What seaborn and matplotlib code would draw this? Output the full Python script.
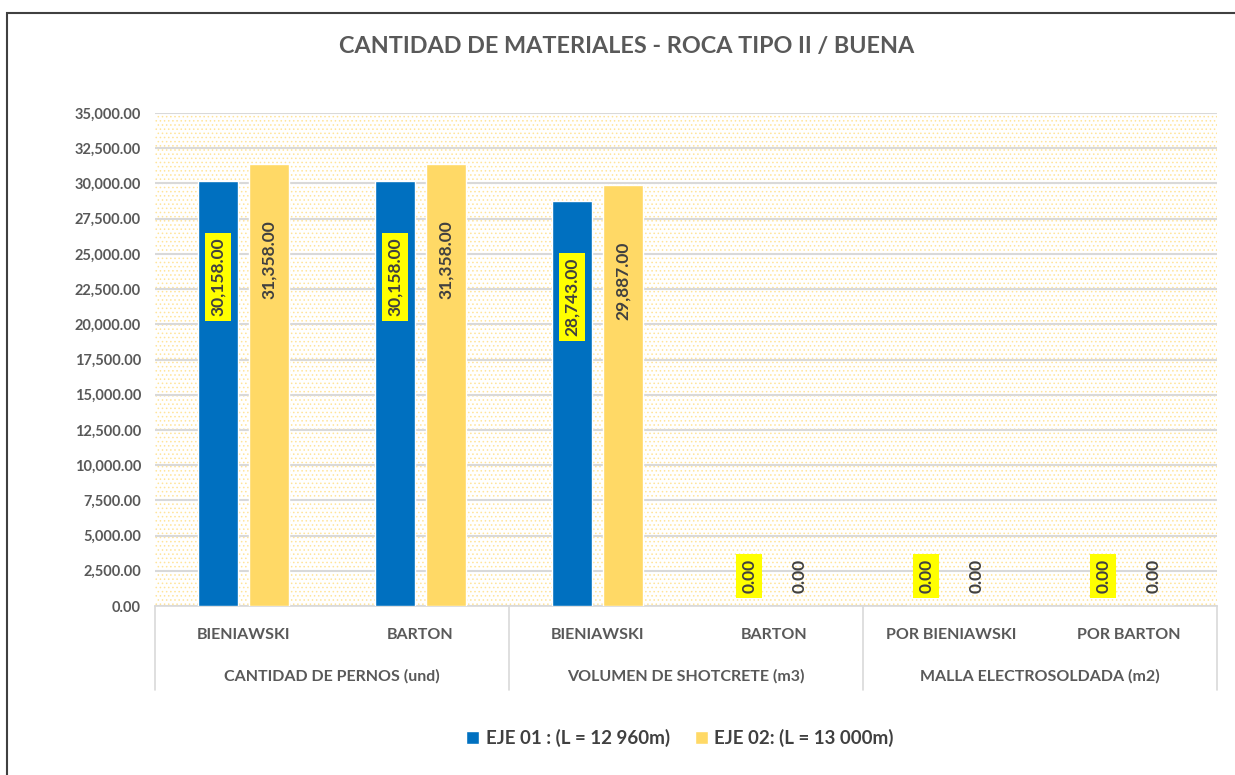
import pandas as pd
import numpy as np
import matplotlib
matplotlib.use("Agg")
import matplotlib.pyplot as plt
import matplotlib.transforms as mtransforms
from matplotlib.patches import Rectangle
from matplotlib.ticker import FuncFormatter, MultipleLocator
import seaborn as sns

# Data
subcategorias = ["BIENIAWSKI", "BARTON", "BIENIAWSKI ", "BARTON ", "POR BIENIAWSKI", "POR BARTON"]
etiquetas_sub = ["BIENIAWSKI", "BARTON", "BIENIAWSKI", "BARTON", "POR BIENIAWSKI", "POR BARTON"]
grupos = ["CANTIDAD DE PERNOS (und)", "VOLUMEN DE SHOTCRETE (m3)", "MALLA ELECTROSOLDADA (m2)"]
eje01 = [30158.00, 30158.00, 28743.00, 0.00, 0.00, 0.00]
eje02 = [31358.00, 31358.00, 29887.00, 0.00, 0.00, 0.00]
series = ["EJE 01 : (L = 12 960m)", "EJE 02: (L = 13 000m)"]
colores = ["#0070C0", "#FFD966"]

df = pd.DataFrame({
    "sub": subcategorias * 2,
    "valor": eje01 + eje02,
    "serie": [series[0]] * 6 + [series[1]] * 6,
})

sns.set_style("white")
plt.rcParams["font.family"] = ["Lato", "DejaVu Sans"]
plt.rcParams["font.weight"] = "bold"
plt.rcParams["hatch.linewidth"] = 0.6
plt.rcParams["hatch.color"] = "#FFE49A"

fig = plt.figure(figsize=(12.35, 7.75), dpi=100)
ax = fig.add_axes([155 / 1235, 1 - 606 / 775, 1062 / 1235, 493 / 775])

# dotted background
ax.add_patch(Rectangle((0, 0), 1, 1, transform=ax.transAxes, facecolor="white",
                       hatch="....", edgecolor="#FFE49A", lw=0, zorder=0))

sns.barplot(data=df, x="sub", y="valor", hue="serie", order=subcategorias,
            hue_order=series, palette=colores, width=0.572, gap=0.21,
            saturation=1, ax=ax, legend=True, zorder=3)

ax.set_ylim(0, 35000)
ax.set_xlim(-0.5, 5.5)
ax.yaxis.set_major_locator(MultipleLocator(2500))
ax.yaxis.set_major_formatter(FuncFormatter(lambda v, p: f"{v:,.2f}"))
ax.grid(axis="y", color="#D9D9D9", lw=1.5, zorder=1)
ax.set_axisbelow(False)
for gl in ax.get_ygridlines():
    gl.set_zorder(1)
for s in ["top", "right", "left"]:
    ax.spines[s].set_visible(False)
ax.spines["bottom"].set_color("#D9D9D9")
ax.spines["bottom"].set_linewidth(1.2)
ax.tick_params(axis="y", length=0, labelsize=10.5, labelcolor="#595959", pad=10)
ax.tick_params(axis="x", length=0, labelsize=11.5, labelcolor="#595959", pad=16)
ax.set_xticks(range(6))
ax.set_xticklabels(etiquetas_sub, fontweight="bold")
for t in ax.get_yticklabels():
    t.set_fontweight("bold")
ax.set_xlabel("")
ax.set_ylabel("")

# group labels and separators
trans = mtransforms.blended_transform_factory(ax.transData, ax.transAxes)
for i, g in enumerate(grupos):
    ax.text(2 * i + 0.5, -0.142, g, transform=trans, ha="center", va="center",
            fontsize=11.5, color="#595959", fontweight="bold")
for xs in [-0.5, 1.5, 3.5, 5.5]:
    ax.plot([xs, xs], [0, -0.171], transform=trans, color="#D9D9D9", lw=1.2, clip_on=False)

# data labels
valores = [eje01, eje02]
for k, cont in enumerate(ax.containers):
    for bar, v in zip(cont, valores[k]):
        xc = bar.get_x() + bar.get_width() / 2
        yl = v - 6800 if v > 0 else 2100
        box = dict(boxstyle="square,pad=0.28", fc="#FFFF00", ec="none") if k == 0 else None
        ax.text(xc, yl, f"{v:,.2f}", rotation=90, ha="center", va="center",
                fontsize=12.5, color="#404040", fontweight="bold", bbox=box, zorder=5)

# legend
handles, labels = ax.get_legend_handles_labels()
ax.legend(handles, labels, loc="center", bbox_to_anchor=(680 / 1235, 1 - 738 / 775),
          bbox_transform=fig.transFigure, ncol=2, frameon=False,
          handlelength=0.7, handleheight=0.7, handletextpad=0.35, columnspacing=1.3,
          labelcolor="#404040", prop={"weight": "bold", "size": 13.5})

fig.text(627 / 1235, 1 - 47 / 775, "CANTIDAD DE MATERIALES - ROCA TIPO II / BUENA",
         ha="center", va="center", fontsize=16.8, color="#595959", fontweight="bold")

# outer border
fig.patches.append(Rectangle((7 / 1235, -0.05), 1.1, 1.05 - 13 / 775, transform=fig.transFigure,
                             fill=False, ec="#404040", lw=1.5))

fig.savefig("out.png", dpi=100)
